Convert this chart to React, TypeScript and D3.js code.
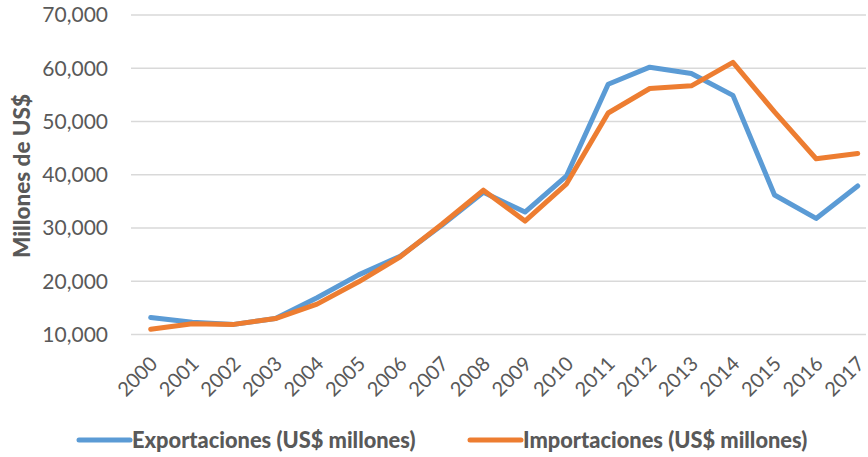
import React, { useEffect, useRef } from 'react';
import * as d3 from 'd3';

const years = ['2000', '2001', '2002', '2003', '2004', '2005', '2006', '2007', '2008', '2009',
  '2010', '2011', '2012', '2013', '2014', '2015', '2016', '2017'];
const exportaciones = [13200, 12300, 11900, 13000, 16900, 21200, 24700, 30500, 36700, 33000,
  39800, 57000, 60200, 59000, 54900, 36200, 31800, 37900];
const importaciones = [11000, 12000, 11900, 13000, 15700, 19900, 24600, 30700, 37100, 31300,
  38300, 51600, 56200, 56700, 61100, 51800, 43000, 44000];
const yTicks = [10000, 20000, 30000, 40000, 50000, 60000, 70000];
const seriesNames = ['Exportaciones (US$ millones)', 'Importaciones (US$ millones)'];
const colors = ['#5B9BD5', '#ED7D31'];

const W = 868;
const H = 457;
const FONT = 'Lato, "Open Sans", sans-serif';

const App = () => {
  const ref = useRef<SVGSVGElement>(null);

  useEffect(() => {
    const svg = d3.select(ref.current);
    svg.selectAll('*').remove();

    const x = d3.scalePoint<string>().domain(years).range([150.7, 857.7]);
    const y = d3.scaleLinear().domain([10000, 70000]).range([334.5, 15]);

    // gridlines
    svg.append('g')
      .selectAll('line')
      .data(yTicks)
      .enter()
      .append('line')
      .attr('x1', 131)
      .attr('x2', 866)
      .attr('y1', d => y(d))
      .attr('y2', d => y(d))
      .attr('stroke', '#D9D9D9')
      .attr('stroke-width', 1.5);

    // y tick labels
    svg.append('g')
      .selectAll('text')
      .data(yTicks)
      .enter()
      .append('text')
      .attr('x', 108)
      .attr('y', d => y(d))
      .attr('dy', '0.35em')
      .attr('text-anchor', 'end')
      .attr('font-family', FONT)
      .attr('font-size', 21)
      .attr('fill', '#595959')
      .text(d => d3.format(',')(d));

    // y axis title
    svg.append('text')
      .attr('transform', 'translate(30,176) rotate(-90)')
      .attr('text-anchor', 'middle')
      .attr('font-family', FONT)
      .attr('font-weight', 900)
      .attr('font-size', 22.5)
      .attr('fill', '#595959')
      .text('Millones de US$');

    // x tick labels
    svg.append('g')
      .selectAll('text')
      .data(years)
      .enter()
      .append('text')
      .attr('transform', d => `translate(${(x(d) as number) + 8},${365}) rotate(-45)`)
      .attr('text-anchor', 'end')
      .attr('font-family', FONT)
      .attr('font-size', 20)
      .attr('fill', '#595959')
      .text(d => d);

    // lines
    const line = d3.line<number>()
      .x((_, i) => x(years[i]) as number)
      .y(d => y(d));

    [exportaciones, importaciones].forEach((vals, i) => {
      svg.append('path')
        .datum(vals)
        .attr('d', line)
        .attr('fill', 'none')
        .attr('stroke', colors[i])
        .attr('stroke-width', 5)
        .attr('stroke-linejoin', 'round')
        .attr('stroke-linecap', 'round');
    });

    // legend
    const legendX = [79, 470];
    seriesNames.forEach((name, i) => {
      const g = svg.append('g').attr('transform', `translate(${legendX[i]},440)`);
      g.append('line')
        .attr('x1', 0)
        .attr('x2', 51)
        .attr('stroke', colors[i])
        .attr('stroke-width', 5)
        .attr('stroke-linecap', 'round');
      g.append('text')
        .attr('x', 53)
        .attr('dy', '0.35em')
        .attr('font-family', FONT)
        .attr('font-weight', 900)
        .attr('font-size', 21.8)
        .attr('fill', '#595959')
        .text(name);
    });
  }, []);

  return (
    <svg ref={ref} width={W} height={H}
      style={{ position: 'absolute', left: 0, top: 0, background: '#fff' }} />
  );
};

export default App;
